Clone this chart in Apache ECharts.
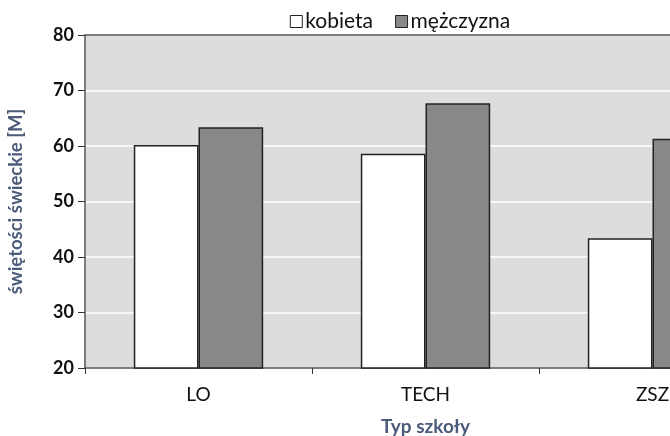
<!DOCTYPE html>
<html>
<head>
<meta charset="utf-8">
<script src="https://cdn.jsdelivr.net/npm/echarts@6/dist/echarts.min.js"></script>
<style>
  html, body { margin: 0; padding: 0; background: #fff; overflow: hidden; }
  #chart { width: 800px; height: 436px; }
</style>
</head>
<body>
<div id="chart"></div>
<script>
const categories = ['LO', 'TECH', 'ZSZ'];
const kobieta = [60.2, 58.6, 43.4];
const mezczyzna = [63.4, 67.7, 61.3];

const font = 'Lato';
const nameColor = '#4b5b7a';

echarts.init(document.getElementById('chart')).setOption({
  animation: false,
  textStyle: {fontFamily: font},
  legend: {
    top: 6,
    left: 'center',
    icon: 'rect',
    itemWidth: 12,
    itemHeight: 12,
    itemGap: 22,
    itemStyle: {borderWidth: 1, borderColor: '#222'},
    textStyle: {fontSize: 21, color: '#111', padding: [0, 0, 0, -2]},
    data: ['kobieta', 'mężczyzna']
  },
  grid: {
    left: 85,
    right: 34,
    top: 35,
    bottom: 68,
    outerBoundsMode: 'none',
    show: true,
    backgroundColor: '#dddddd',
    borderWidth: 0
  },
  xAxis: [
    {
      type: 'category',
      data: categories,
      name: 'Typ szkoły',
      nameLocation: 'middle',
      nameGap: 49,
      nameTextStyle: {fontSize: 19, color: nameColor, fontWeight: 'bold'},
      axisLine: {lineStyle: {color: '#555', width: 1.5}},
      axisTick: {show: true, length: 6, lineStyle: {color: '#333'}},
      axisLabel: {fontSize: 19, color: '#111', margin: 17}
    },
    {
      type: 'category',
      data: categories,
      position: 'top',
      axisLine: {lineStyle: {color: '#555', width: 1.5}},
      axisTick: {show: false},
      axisLabel: {show: false}
    }
  ],
  yAxis: {
    type: 'value',
    min: 20,
    max: 80,
    interval: 10,
    name: 'świętości świeckie [M]',
    nameLocation: 'middle',
    nameGap: 59,
    nameTextStyle: {fontSize: 18.5, color: nameColor, fontWeight: 'bold'},
    axisLine: {show: true, lineStyle: {color: '#555', width: 1.5}},
    axisTick: {show: true, length: 7, lineStyle: {color: '#333'}},
    axisLabel: {fontSize: 18, color: '#111', fontWeight: 'bold', margin: 11},
    splitLine: {lineStyle: {color: '#ffffff', width: 1.5}}
  },
  series: [
    {
      name: 'kobieta',
      type: 'bar',
      data: kobieta,
      barGap: '0%',
      barCategoryGap: '43%',
      itemStyle: {color: '#ffffff', borderColor: '#222', borderWidth: 1.5}
    },
    {
      name: 'mężczyzna',
      type: 'bar',
      data: mezczyzna,
      itemStyle: {color: '#888888', borderColor: '#222', borderWidth: 1.5}
    }
  ]
});
</script>
</body>
</html>
